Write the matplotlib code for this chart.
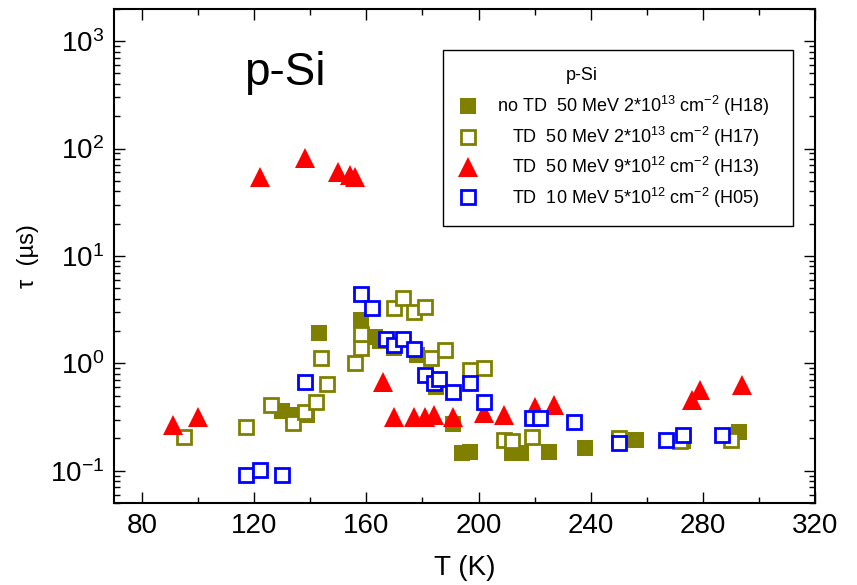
import matplotlib
matplotlib.use('Agg')
import matplotlib.pyplot as plt
from matplotlib.ticker import MultipleLocator, LogLocator, NullFormatter

plt.rcParams['font.family'] = ['Liberation Sans', 'DejaVu Sans']
plt.rcParams['mathtext.fontset'] = 'custom'
plt.rcParams['mathtext.rm'] = 'Liberation Sans'
plt.rcParams['mathtext.it'] = 'Liberation Sans:italic'
plt.rcParams['mathtext.default'] = 'regular'

# no TD 50 MeV 2e13 (H18), filled olive squares
h18_T = [130, 134, 139, 143, 158, 163, 165, 170, 178, 185, 191, 194, 197,
         212, 215, 225, 238, 250, 256, 273, 293]
h18_tau = [0.36, 0.33, 0.33, 1.92, 2.53, 1.76, 1.6, 1.4, 1.2, 0.6, 0.27, 0.146, 0.15,
           0.146, 0.146, 0.15, 0.163, 0.193, 0.195, 0.19, 0.23]

# TD 50 MeV 2e13 (H17), open olive squares
h17_T = [95, 117, 126, 134, 138, 142, 144, 146, 156, 158, 158, 170, 173, 177,
         181, 183, 188, 197, 202, 209, 212, 219, 250, 272, 290]
h17_tau = [0.206, 0.255, 0.41, 0.28, 0.35, 0.44, 1.12, 0.64, 1.0, 1.39, 1.88, 3.28,
           4.07, 3.0, 3.35, 1.12, 1.33, 0.87, 0.9, 0.193, 0.19, 0.206, 0.2, 0.19, 0.195]

# TD 50 MeV 9e12 (H13), red triangles
h13_T = [91, 100, 122, 138, 150, 154, 156, 166, 170, 177, 181, 184, 191, 202,
         209, 220, 227, 276, 279, 294]
h13_tau = [0.267, 0.32, 54, 81, 60, 57, 54, 0.67, 0.32, 0.32, 0.32, 0.33, 0.32, 0.345,
           0.33, 0.39, 0.41, 0.46, 0.56, 0.63]

# TD 10 MeV 5e12 (H05), open blue squares
h05_T = [117, 122, 130, 138, 158, 162, 167, 170, 173, 177, 181, 184, 186, 191,
         197, 202, 219, 222, 234, 250, 267, 273, 287]
h05_tau = [0.091, 0.102, 0.091, 0.67, 4.43, 3.28, 1.69, 1.48, 1.69, 1.36, 0.78, 0.66,
           0.71, 0.54, 0.66, 0.44, 0.31, 0.31, 0.284, 0.18, 0.193, 0.215, 0.215]

olive = '#808000'

fig = plt.figure(figsize=(8.57, 5.85), dpi=100)
ax = fig.add_axes([0.133, 0.140, 0.818, 0.845])

ax.plot(h18_T, h18_tau, 's', color=olive, ms=12, mew=0,
        label='no TD  50 MeV 2*10$^{13}$ cm$^{-2}$ (H18)')
ax.plot(h17_T, h17_tau, 's', mfc='white', mec=olive, ms=9.6, mew=2.0,
        label='   TD  50 MeV 2*10$^{13}$ cm$^{-2}$ (H17)')
ax.plot(h13_T, h13_tau, '^', color='red', ms=14, mew=0,
        label='   TD  50 MeV 9*10$^{12}$ cm$^{-2}$ (H13)')
ax.plot(h05_T, h05_tau, 's', mfc='white', mec='blue', ms=9.6, mew=2.0,
        label='   TD  10 MeV 5*10$^{12}$ cm$^{-2}$ (H05)')

ax.set_yscale('log')
ax.set_xlim(70, 320)
ax.set_ylim(0.05, 2000)
ax.xaxis.set_major_locator(MultipleLocator(40))
ax.xaxis.set_minor_locator(MultipleLocator(20))
ax.yaxis.set_major_locator(LogLocator(base=10, numticks=10))
ax.yaxis.set_minor_locator(LogLocator(base=10, subs=range(2, 10), numticks=20))
ax.yaxis.set_minor_formatter(NullFormatter())

ax.tick_params(which='both', direction='in', top=True, right=True, width=1.0)
ax.tick_params(which='major', length=8, labelsize=20)
ax.tick_params(which='minor', length=4.5)
ax.tick_params(axis='x', which='major', pad=7)
ax.tick_params(axis='y', which='major', pad=7)
for s in ax.spines.values():
    s.set_linewidth(1.5)

ax.set_xlabel('T (K)', fontsize=20, labelpad=12)
ax.set_ylabel('τ  (µs)', fontsize=17, labelpad=8)

ax.text(0.244, 0.846, 'p-Si', transform=ax.transAxes, fontsize=33,
        ha='center', va='baseline')

leg = ax.legend(loc='upper left', bbox_to_anchor=(0.469, 0.5, 0.500, 0.417),
                mode='expand', borderaxespad=0, fontsize=13, title=' ',
                title_fontsize=17, borderpad=0.9, labelspacing=0.35,
                handlelength=1.0, handletextpad=1.1, fancybox=False,
                framealpha=1, edgecolor='black')
leg.get_frame().set_linewidth(1.0)
ax.text(0.668, 0.866, 'p-Si', transform=ax.transAxes, fontsize=13,
        ha='center', va='center', zorder=10)

fig.savefig('out.png', dpi=100)
